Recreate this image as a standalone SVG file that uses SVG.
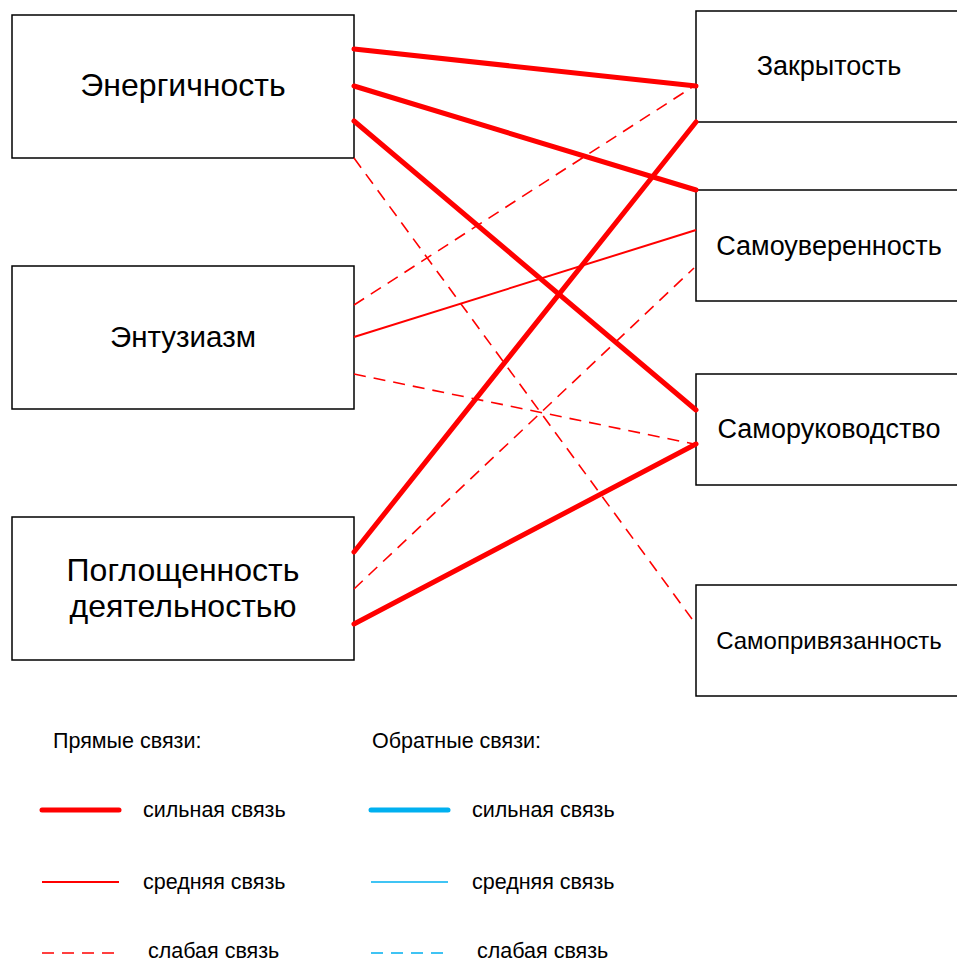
<svg xmlns="http://www.w3.org/2000/svg" width="957" height="962" viewBox="0 0 957 962">
  <style>
    .box { fill: #ffffff; stroke: #000000; stroke-width: 1.5; }
    .lbl { font-family: "Liberation Sans", Arial, sans-serif; fill: #000000; }
    .leg { font-family: "Liberation Sans", Arial, sans-serif; fill: #000000; font-size: 21.5px; }
    .strong { stroke: #ff0000; stroke-width: 5; stroke-linecap: round; fill: none; }
    .medium { stroke: #ff0000; stroke-width: 2; fill: none; }
    .weak { stroke: #ff0000; stroke-width: 1.6; stroke-dasharray: 12 8; fill: none; }
    .bstrong { stroke: #00b0f0; stroke-width: 5; stroke-linecap: round; fill: none; }
    .bmedium { stroke: #00b0f0; stroke-width: 1.6; fill: none; }
    .bweak { stroke: #00b0f0; stroke-width: 1.6; stroke-dasharray: 12 8; fill: none; }
  </style>
  <rect width="957" height="962" fill="#ffffff"/>

  <!-- left column -->
  <g id="energichnost">
    <rect class="box" x="12" y="15" width="342" height="143"/>
    <text class="lbl" x="183" y="96" font-size="32" text-anchor="middle">Энергичность</text>
  </g>
  <g id="entuziazm">
    <rect class="box" x="12" y="266" width="342" height="143"/>
    <text class="lbl" x="183" y="347" font-size="29.5" text-anchor="middle">Энтузиазм</text>
  </g>
  <g id="pogloshchennost">
    <rect class="box" x="12" y="517" width="342" height="143"/>
    <text class="lbl" x="183" y="581" font-size="32" text-anchor="middle">Поглощенность</text>
    <text class="lbl" x="183" y="617" font-size="32" text-anchor="middle">деятельностью</text>
  </g>

  <!-- right column -->
  <g id="zakrytost">
    <rect class="box" x="696" y="11" width="280" height="111"/>
    <text class="lbl" x="829" y="75" font-size="27" text-anchor="middle">Закрытость</text>
  </g>
  <g id="samouverennost">
    <rect class="box" x="696" y="190" width="280" height="111"/>
    <text class="lbl" x="829" y="255" font-size="27" text-anchor="middle">Самоуверенность</text>
  </g>
  <g id="samorukovodstvo">
    <rect class="box" x="696" y="374" width="280" height="111"/>
    <text class="lbl" x="829" y="438" font-size="27" text-anchor="middle">Саморуководство</text>
  </g>
  <g id="samoprivyazannost">
    <rect class="box" x="696" y="585" width="280" height="111"/>
    <text class="lbl" x="829" y="649" font-size="24" text-anchor="middle">Самопривязанность</text>
  </g>

  <!-- connections -->
  <g id="connectors">
    <line class="strong" x1="354" y1="49" x2="696" y2="86"/>
    <line class="strong" x1="354" y1="86" x2="696" y2="190"/>
    <line class="strong" x1="354" y1="121" x2="696" y2="410"/>
    <line class="weak" x1="354" y1="158" x2="692" y2="619"/>
    <line class="weak" x1="354" y1="305" x2="694" y2="86"/>
    <line class="medium" x1="354" y1="337" x2="696" y2="230"/>
    <line class="weak" x1="354" y1="374" x2="694" y2="444"/>
    <line class="strong" x1="354" y1="552" x2="696" y2="122"/>
    <line class="weak" x1="354" y1="589" x2="694" y2="268"/>
    <line class="strong" x1="354" y1="624" x2="696" y2="444"/>
  </g>

  <!-- legend -->
  <g id="legend">
    <text class="leg" x="53" y="748">Прямые связи:</text>
    <text class="leg" x="372" y="748">Обратные связи:</text>

    <line class="strong" x1="42" y1="810" x2="119" y2="810"/>
    <line class="medium" x1="42" y1="882" x2="119" y2="882" stroke-width="1.6"/>
    <line class="weak" x1="42" y1="953" x2="120" y2="953"/>
    <text class="leg" x="143" y="817">сильная связь</text>
    <text class="leg" x="143" y="889">средняя связь</text>
    <text class="leg" x="148" y="958">слабая связь</text>

    <line class="bstrong" x1="371" y1="810" x2="448" y2="810"/>
    <line class="bmedium" x1="371" y1="882" x2="448" y2="882"/>
    <line class="bweak" x1="371" y1="953" x2="449" y2="953"/>
    <text class="leg" x="472" y="817">сильная связь</text>
    <text class="leg" x="472" y="889">средняя связь</text>
    <text class="leg" x="477" y="958">слабая связь</text>
  </g>
</svg>
